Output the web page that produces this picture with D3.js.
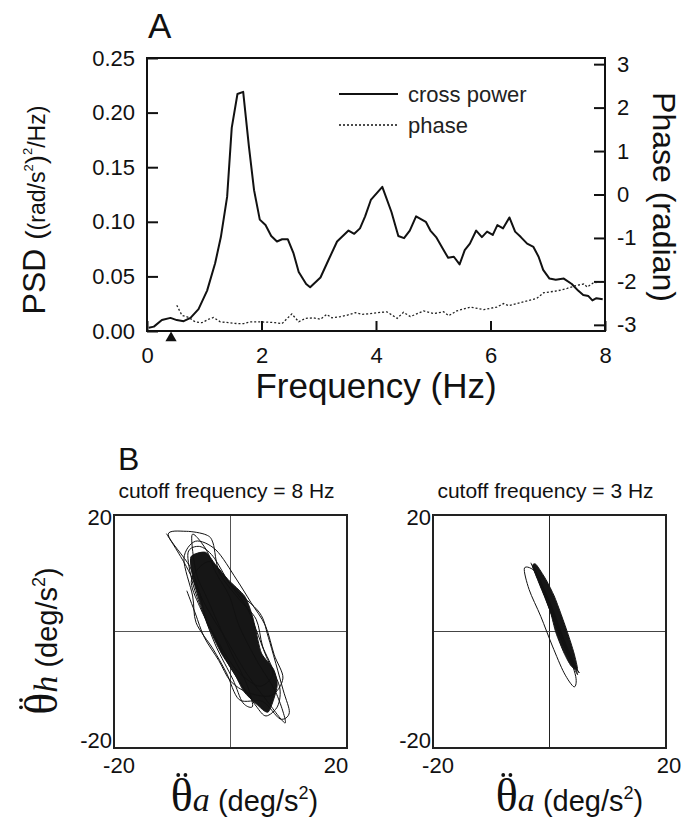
<!DOCTYPE html>
<html>
<head>
<meta charset="utf-8">
<script src="https://cdn.jsdelivr.net/npm/d3@7"></script>
<style>
  body { margin: 0; background: #fff; }
  svg { font-family: "Liberation Sans", Arial, sans-serif; }
</style>
</head>
<body>
<svg id="fig" width="686" height="833"></svg>
<script>
// ---- panel A data ----
const powerFreq = [0.03, 0.12, 0.26, 0.41, 0.52, 0.64, 0.76, 0.90, 1.05, 1.19, 1.29, 1.40, 1.48, 1.58, 1.68,
  1.78, 1.87, 1.97, 2.07, 2.17, 2.27, 2.36, 2.46, 2.56, 2.65, 2.78, 2.85, 3.03, 3.17, 3.32, 3.52, 3.62, 3.72,
  3.81, 3.91, 4.11, 4.27, 4.39, 4.49, 4.59, 4.70, 4.80, 4.87, 4.95, 5.05, 5.16, 5.26, 5.36, 5.46, 5.55, 5.64,
  5.75, 5.85, 5.94, 6.04, 6.12, 6.22, 6.33, 6.43, 6.53, 6.64, 6.75, 6.84, 6.92, 7.03, 7.14, 7.28, 7.42, 7.53,
  7.62, 7.71, 7.78, 7.85, 7.96];
const crossPower = [0.003, 0.004, 0.010, 0.012, 0.010, 0.009, 0.012, 0.020, 0.037, 0.062, 0.086, 0.123, 0.186,
  0.217, 0.219, 0.169, 0.129, 0.102, 0.097, 0.087, 0.082, 0.084, 0.084, 0.071, 0.054, 0.043, 0.040, 0.049,
  0.065, 0.082, 0.092, 0.089, 0.094, 0.105, 0.120, 0.132, 0.109, 0.087, 0.085, 0.092, 0.105, 0.102, 0.100,
  0.092, 0.086, 0.076, 0.067, 0.068, 0.061, 0.074, 0.080, 0.092, 0.086, 0.091, 0.088, 0.097, 0.094, 0.104,
  0.091, 0.086, 0.080, 0.077, 0.068, 0.056, 0.048, 0.047, 0.048, 0.043, 0.037, 0.033, 0.032, 0.028, 0.030,
  0.029];

const phaseFreq = [0.52, 0.61, 0.73, 0.84, 0.96, 1.08, 1.16, 1.28, 1.43, 1.57, 1.69, 1.80, 1.95, 2.13, 2.24,
  2.36, 2.45, 2.53, 2.65, 2.77, 2.91, 3.03, 3.14, 3.23, 3.38, 3.49, 3.64, 3.76, 3.90, 4.02, 4.19, 4.37, 4.48,
  4.60, 4.83, 5.01, 5.18, 5.27, 5.41, 5.65, 5.88, 6.11, 6.23, 6.32, 6.58, 6.81, 6.93, 7.16, 7.34, 7.51, 7.63,
  7.69, 7.80, 7.98];
const phase = [-2.55, -2.78, -2.83, -2.93, -2.95, -2.87, -2.83, -2.93, -2.95, -2.97, -2.97, -2.93, -2.93,
  -2.94, -2.95, -2.97, -2.85, -2.75, -2.93, -2.85, -2.84, -2.87, -2.76, -2.84, -2.81, -2.78, -2.72, -2.76,
  -2.74, -2.72, -2.70, -2.85, -2.71, -2.81, -2.68, -2.74, -2.70, -2.79, -2.68, -2.59, -2.65, -2.59, -2.51,
  -2.56, -2.47, -2.39, -2.26, -2.22, -2.16, -2.09, -2.06, -2.13, -2.03, -2.01];

const psdTicks = [0, 0.05, 0.10, 0.15, 0.20, 0.25];
const phaseTicks = [-3, -2, -1, 0, 1, 2, 3];
const freqTicks = [0, 2, 4, 6, 8];
const markerFreq = 0.42;
const legendItems = ["cross power", "phase"];

// ---- panel B data: head vs. ankle angular acceleration (deg/s^2) ----
const traj8 = [[-11.0, 16.8], [-7.6, 11.2], [-4.2, 4.3], [-0.7, -1.4], [2.7, -7.1], [6.1, -11.7], [9.4, -15.7],
  [7.8, -10.5], [4.4, -4.8], [1.5, 0.9], [-0.2, 6.1], [-2.5, 10.1], [-4.2, 14.1], [-6.6, 16.6], [-5.9, 10.1],
  [-4.2, 6.1], [-1.9, 0.9], [0.4, -4.2], [2.7, -8.8], [3.8, -12.8], [2.1, -12.2], [0.4, -8.2], [-2.5, -2.5],
  [-4.7, 3.2], [-6.5, 8.3], [-7.3, 13.5], [-5.3, 14.6], [-3.0, 12.9], [-0.2, 8.3], [2.7, 4.3], [4.4, 0.3],
  [6.1, -4.2], [8.4, -9.4], [8.1, -12.8], [6.1, -14.5], [4.4, -12.8], [2.1, -9.4], [-0.2, -5.9], [-2.5, -1.4],
  [-4.2, 2.1], [-5.3, 6.6], [-7.0, 11.2], [-10.7, 16.6], [-7.6, 17.2], [-4.2, 16.6], [-3.0, 15.2], [-1.9, 10.1],
  [1.5, 5.5], [4.4, 2.1], [5.5, -2.5], [7.3, -7.1], [5.0, -9.4], [1.5, -7.1], [-0.7, -4.2], [-3.0, -0.2],
  [-5.3, 4.3], [-6.7, 8.9], [-3.5, 12.0], [0.5, 7.5], [5.0, 3.2], [6.5, -1.0], [9.0, -9.9], [10.1, -13.9],
  [8.5, -15.0], [5.5, -12.0], [1.5, -11.7], [-0.7, -7.1], [-3.0, -3.0], [-5.9, 1.5], [-6.5, 6.1], [-8.0, 12.5],
  [-6.0, 15.5], [-2.5, 14.0], [1.0, 9.0], [3.5, 5.0], [6.0, 1.0], [7.5, -4.0], [9.0, -8.0], [7.0, -11.0],
  [3.0, -10.5], [0.0, -8.5], [-2.0, -5.0], [-4.5, -1.0], [-6.0, 3.0], [-7.5, 7.0]];
const core8 = [[-6.8, 12.8], [-6.4, 8.9], [-5.0, 4.3], [-3.8, 0.9], [-1.6, -3.7], [0.6, -7.1], [2.3, -10.3],
  [4.4, -12.4], [6.5, -13.8], [8.0, -9.4], [7.4, -6.5], [5.3, -3.7], [4.2, 0.9], [3.6, 3.2], [2.4, 6.1],
  [-0.4, 8.9], [-2.6, 11.5], [-4.3, 13.6]];

const traj3 = [[-3.2, 11.8], [-1.5, 7.8], [0.8, 2.1], [2.5, -2.5], [4.8, -7.4], [3.7, -4.2], [1.4, 0.9],
  [-0.3, 5.5], [-2.3, 10.1], [-4.3, 10.9], [-3.5, 7.2], [-1.5, 2.6], [0.5, -2.5], [2.5, -7.1], [4.2, -9.5],
  [4.5, -7.7], [2.8, -2.5], [0.8, 3.2], [-0.9, 7.2], [-2.6, 10.9], [-1.8, 8.9], [0.2, 4.3], [1.9, -0.2],
  [3.7, -4.8], [5.1, -7.1], [3.1, -3.7], [1.1, 0.9], [-0.6, 5.5], [-2.1, 9.5], [-2.9, 11.2]];
const core3 = [[-2.9, 11.2], [-1.8, 8.3], [-0.9, 6.1], [0.2, 3.2], [1.1, -0.2], [2.5, -3.7], [3.7, -5.9],
  [4.8, -6.5], [4.2, -3.7], [3.1, -0.2], [1.9, 3.2], [0.8, 6.1], [-0.6, 8.9], [-2.3, 11.5]];

const accTicks = [-20, 20];
const cutoffs = [8, 3];

// ---- layout ----
const svg = d3.select("#fig");
const A = { left: 147, right: 605, top: 58, bottom: 331 };

const x = d3.scaleLinear().domain([0, 8]).range([A.left, A.right]);
const yPsd = d3.scaleLinear().domain([0, 0.25]).range([A.bottom, A.top]);
const yPhase = d3.scaleLinear().domain([-Math.PI, Math.PI]).range([A.bottom, A.top]);

const gA = svg.append("g");

gA.append("text").attr("x", 148).attr("y", 38)
  .attr("font-size", 35).attr("fill", "#111").text("A");

// axes with inward ticks
const axL = gA.append("g").attr("transform", `translate(${A.left},0)`)
  .call(d3.axisLeft(yPsd).tickValues(psdTicks).tickFormat(d3.format(".2f"))
    .tickSizeInner(-11).tickSizeOuter(0).tickPadding(12));
const axR = gA.append("g").attr("transform", `translate(${A.right},0)`)
  .call(d3.axisRight(yPhase).tickValues(phaseTicks).tickFormat(d => d < 0 ? "-" + Math.abs(d) : d)
    .tickSizeInner(-11).tickSizeOuter(0).tickPadding(12));
const axB = gA.append("g").attr("transform", `translate(0,${A.bottom})`)
  .call(d3.axisBottom(x).tickValues(freqTicks).tickFormat(d3.format("d"))
    .tickSizeInner(-10).tickSizeOuter(0).tickPadding(16));

[axL, axR, axB].forEach(ax => {
  ax.select(".domain").remove();
  ax.selectAll("line").attr("stroke", "#111").attr("stroke-width", 2);
  ax.selectAll("text").attr("font-size", 22).attr("fill", "#111")
    .attr("font-family", "Liberation Sans, Arial, sans-serif");
});

gA.append("rect")
  .attr("x", A.left).attr("y", A.top)
  .attr("width", A.right - A.left).attr("height", A.bottom - A.top)
  .attr("fill", "none").attr("stroke", "#111").attr("stroke-width", 2);

// curves
const powerLine = d3.line().x((d, i) => x(powerFreq[i])).y(d => yPsd(d));
gA.append("path").datum(crossPower)
  .attr("d", powerLine)
  .attr("fill", "none").attr("stroke", "#111").attr("stroke-width", 2)
  .attr("stroke-linejoin", "round");

const phaseLine = d3.line().x((d, i) => x(phaseFreq[i])).y(d => yPhase(d));
gA.append("path").datum(phase)
  .attr("d", phaseLine)
  .attr("fill", "none").attr("stroke", "#222").attr("stroke-width", 1.3)
  .attr("stroke-dasharray", "2,2");

// stimulus marker under the axis
gA.append("path")
  .attr("d", d3.symbol(d3.symbolTriangle, 55)())
  .attr("transform", `translate(${x(markerFreq)},${A.bottom + 7})`)
  .attr("fill", "#111");

// legend
const leg = gA.append("g").attr("transform", "translate(339,94)");
legendItems.forEach((name, i) => {
  const row = leg.append("g").attr("transform", `translate(0,${i * 31})`);
  row.append("line").attr("x1", 0).attr("x2", 59)
    .attr("stroke", "#111")
    .attr("stroke-width", i === 0 ? 2 : 1.3)
    .attr("stroke-dasharray", i === 0 ? null : "2,2");
  row.append("text").attr("x", 69).attr("y", 8)
    .attr("font-size", 22).attr("fill", "#222").text(name);
});

// axis titles
gA.append("text")
  .attr("x", 376).attr("y", 398)
  .attr("text-anchor", "middle").attr("font-size", 35).attr("fill", "#111")
  .text("Frequency (Hz)");

gA.append("text")
  .attr("transform", "translate(653,197) rotate(90)")
  .attr("text-anchor", "middle").attr("font-size", 32).attr("fill", "#111")
  .text("Phase (radian)");

const psdLab = gA.append("text")
  .attr("transform", "translate(45,210) rotate(-90)")
  .attr("text-anchor", "middle").attr("fill", "#111");
psdLab.append("tspan").attr("font-size", 32).text("PSD ");
psdLab.append("tspan").attr("font-size", 28).text("(");
psdLab.append("tspan").attr("font-size", 23).text("(rad/s");
psdLab.append("tspan").attr("font-size", 13).attr("dy", -12).text("2");
psdLab.append("tspan").attr("font-size", 28).attr("dy", 12).text(")");
psdLab.append("tspan").attr("font-size", 13).attr("dy", -13).text("2");
psdLab.append("tspan").attr("font-size", 23).attr("dy", 13).text("/Hz)");

// ---- panel B ----
svg.append("text").attr("x", 118).attr("y", 470)
  .attr("font-size", 32).attr("fill", "#111").text("B");

// theta double-dot label; the two dots are placed over the theta glyph
function accLabel(parent, transform, sub) {
  const g = parent.append("g").attr("transform", transform);
  const t = g.append("text").attr("text-anchor", "middle").attr("fill", "#111");
  t.append("tspan").attr("font-family", "Liberation Serif, DejaVu Serif, serif")
    .attr("font-size", 46).text("\u03B8");
  t.append("tspan").attr("font-family", "Liberation Serif, DejaVu Serif, serif")
    .attr("font-style", "italic").attr("font-size", 34).text(sub);
  t.append("tspan").attr("font-size", 29).text(" (deg/s");
  t.append("tspan").attr("font-size", 18).attr("dy", -12).text("2");
  t.append("tspan").attr("font-size", 29).attr("dy", 12).text(")");
  const box = t.node().getExtentOfChar(0);
  const cx = box.x + box.width / 2;
  const top = -31;
  [-3.6, 3.6].forEach(dx => {
    g.append("circle").attr("cx", cx + dx).attr("cy", top - 5).attr("r", 1.9).attr("fill", "#111");
  });
}

const panelSize = 233;
const panelTop = 515;
const panelLefts = [114, 433];
const trajs = [traj8, traj3];
const cores = [core8, core3];

panelLefts.forEach((left, k) => {
  const px = d3.scaleLinear().domain([-20, 20]).range([left, left + panelSize]);
  const py = d3.scaleLinear().domain([-20, 20]).range([panelTop + panelSize, panelTop]);
  const g = svg.append("g");

  g.append("text")
    .attr("x", left + panelSize / 2 - 4).attr("y", 498)
    .attr("text-anchor", "middle").attr("font-size", 21).attr("fill", "#111")
    .text(`cutoff frequency = ${cutoffs[k]} Hz`);

  // zero crosshair
  g.append("line").attr("x1", px(0)).attr("x2", px(0))
    .attr("y1", py(-20)).attr("y2", py(20))
    .attr("stroke", k === 0 ? "#555" : "#222").attr("stroke-width", 1);
  g.append("line").attr("x1", px(-20)).attr("x2", px(20))
    .attr("y1", py(0)).attr("y2", py(0))
    .attr("stroke", k === 0 ? "#555" : "#444").attr("stroke-width", 1);

  // dense centre of the phase-plane trajectory
  const area = d3.line().x(d => px(d[0])).y(d => py(d[1])).curve(d3.curveCardinalClosed.tension(0.3));
  g.append("path").datum(cores[k]).attr("d", area)
    .attr("fill", "#161616").attr("stroke", "#161616").attr("stroke-width", 1);

  const path = d3.line().x(d => px(d[0])).y(d => py(d[1])).curve(d3.curveCardinal.tension(0.1));
  g.append("path").datum(trajs[k]).attr("d", path)
    .attr("fill", "none").attr("stroke", "#111").attr("stroke-width", 1);

  g.append("rect")
    .attr("x", left).attr("y", panelTop)
    .attr("width", panelSize).attr("height", panelSize)
    .attr("fill", "none").attr("stroke", "#222").attr("stroke-width", 2);

  // tick labels
  accTicks.forEach(v => {
    g.append("text")
      .attr("x", left - 2).attr("y", py(v) + (v > 0 ? 10 : 0))
      .attr("text-anchor", "end").attr("font-size", 22).attr("fill", "#111")
      .text(v < 0 ? "-" + Math.abs(v) : v);
    g.append("text")
      .attr("x", px(v) + (v < 0 ? 5 : (k === 0 ? -11 : 3))).attr("y", panelTop + panelSize + 25)
      .attr("text-anchor", "middle").attr("font-size", 22).attr("fill", "#111")
      .text(v < 0 ? "-" + Math.abs(v) : v);
  });

  accLabel(g, `translate(${left + panelSize / 2 + 14 + (k === 0 ? 0 : 6)},811)`, "a");
  if (k === 0) accLabel(g, "translate(57,641) rotate(-90)", "h");
});
</script>
</body>
</html>
